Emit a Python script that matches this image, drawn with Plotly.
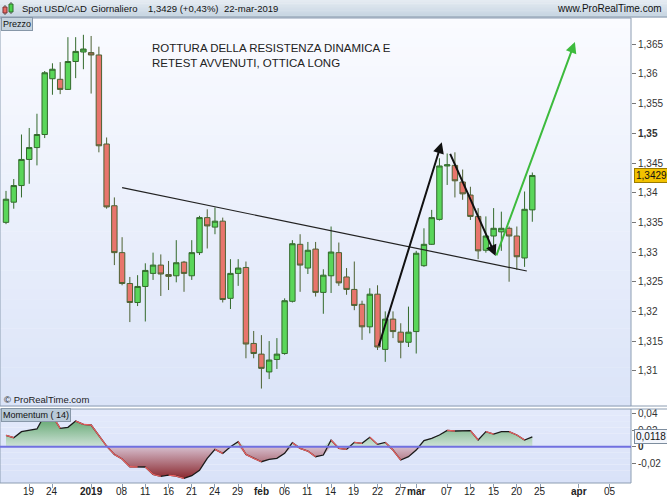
import plotly.graph_objects as go
from plotly.subplots import make_subplots

# ---------------- data ----------------
dates = [
    "2018-12-14", "2018-12-17", "2018-12-18", "2018-12-19", "2018-12-20", "2018-12-21",
    "2018-12-24", "2018-12-26", "2018-12-27", "2018-12-28", "2018-12-31",
    "2019-01-02", "2019-01-03", "2019-01-04", "2019-01-07", "2019-01-08", "2019-01-09",
    "2019-01-10", "2019-01-11", "2019-01-14", "2019-01-15", "2019-01-16", "2019-01-17",
    "2019-01-18", "2019-01-21", "2019-01-22", "2019-01-23", "2019-01-24", "2019-01-25",
    "2019-01-28", "2019-01-29", "2019-01-30", "2019-01-31",
    "2019-02-01", "2019-02-04", "2019-02-05", "2019-02-06", "2019-02-07", "2019-02-08",
    "2019-02-11", "2019-02-12", "2019-02-13", "2019-02-14", "2019-02-15", "2019-02-18",
    "2019-02-19", "2019-02-20", "2019-02-21", "2019-02-22", "2019-02-25", "2019-02-26",
    "2019-02-27", "2019-02-28",
    "2019-03-01", "2019-03-04", "2019-03-05", "2019-03-06", "2019-03-07", "2019-03-08",
    "2019-03-11", "2019-03-12", "2019-03-13", "2019-03-14", "2019-03-15", "2019-03-18",
    "2019-03-19", "2019-03-20", "2019-03-21", "2019-03-22",
]
opens = [
    1.3350, 1.3384, 1.3412, 1.3456, 1.3476, 1.3498, 1.3592, 1.3591, 1.3574, 1.3621, 1.3637,
    1.3636, 1.3632, 1.3482, 1.3378, 1.3299, 1.3247, 1.3215, 1.3242, 1.3264, 1.3278, 1.3262,
    1.3260, 1.3283, 1.3260, 1.3299, 1.3358, 1.3342, 1.3352, 1.3222, 1.3264, 1.3274, 1.3146,
    1.3128, 1.3098, 1.3119, 1.3129, 1.3217, 1.3313, 1.3273, 1.3305, 1.3232, 1.3260, 1.3299,
    1.3258, 1.3237, 1.3212, 1.3174, 1.3229, 1.3136, 1.3187, 1.3165, 1.3148,
    1.3166, 1.3277, 1.3313, 1.3355, 1.3445, 1.3446, 1.3418, 1.3396, 1.3360, 1.3303, 1.3327,
    1.3334, 1.3340, 1.3327, 1.3290, 1.3371,
]
highs = [
    1.3403, 1.3423, 1.3498, 1.3509, 1.3533, 1.3605, 1.3618, 1.3620, 1.3662, 1.3662, 1.3666,
    1.3664, 1.3646, 1.3493, 1.3392, 1.3325, 1.3258, 1.3261, 1.3281, 1.3299, 1.3296, 1.3285,
    1.3320, 1.3285, 1.3320, 1.3361, 1.3372, 1.3375, 1.3358, 1.3288, 1.3288, 1.3284, 1.3167,
    1.3160, 1.3150, 1.3155, 1.3222, 1.3320, 1.3330, 1.3317, 1.3317, 1.3271, 1.3343, 1.3316,
    1.3273, 1.3284, 1.3218, 1.3239, 1.3244, 1.3200, 1.3200, 1.3180, 1.3208,
    1.3302, 1.3340, 1.3371, 1.3458, 1.3466, 1.3468, 1.3439, 1.3410, 1.3374, 1.3360, 1.3374,
    1.3368, 1.3343, 1.3343, 1.3402, 1.3434,
]
lows = [
    1.3347, 1.3373, 1.3392, 1.3415, 1.3446, 1.3492, 1.3565, 1.3566, 1.3573, 1.3593, 1.3608,
    1.3567, 1.3468, 1.3373, 1.3278, 1.3244, 1.3182, 1.3209, 1.3183, 1.3253, 1.3226, 1.3236,
    1.3249, 1.3233, 1.3253, 1.3295, 1.3306, 1.3330, 1.3215, 1.3204, 1.3243, 1.3121, 1.3121,
    1.3070, 1.3086, 1.3103, 1.3127, 1.3215, 1.3233, 1.3263, 1.3225, 1.3196, 1.3231, 1.3243,
    1.3228, 1.3202, 1.3152, 1.3163, 1.3135, 1.3115, 1.3155, 1.3121, 1.3140,
    1.3129, 1.3275, 1.3312, 1.3353, 1.3413, 1.3392, 1.3388, 1.3354, 1.3288, 1.3299, 1.3303,
    1.3302, 1.3250, 1.3270, 1.3275, 1.3351,
]
closes = [
    1.3389, 1.3412, 1.3456, 1.3476, 1.3498, 1.3602, 1.3608, 1.3574, 1.3621, 1.3638, 1.3642,
    1.3632, 1.3479, 1.3376, 1.3299, 1.3247, 1.3215, 1.3242, 1.3269, 1.3278, 1.3263, 1.3259,
    1.3282, 1.3264, 1.3299, 1.3358, 1.3344, 1.3352, 1.3220, 1.3264, 1.3273, 1.3145, 1.3129,
    1.3104, 1.3118, 1.3128, 1.3218, 1.3314, 1.3278, 1.3303, 1.3232, 1.3261, 1.3300, 1.3248,
    1.3237, 1.3210, 1.3174, 1.3229, 1.3140, 1.3187, 1.3166, 1.3148, 1.3165,
    1.3298, 1.3313, 1.3358, 1.3445, 1.3447, 1.3420, 1.3398, 1.3360, 1.3302, 1.3327, 1.3340,
    1.3340, 1.3327, 1.3292, 1.3372, 1.3429,
]
momentum = [
    0.0136, 0.0108, 0.0180, 0.0200, 0.0212, 0.0380, 0.0370, 0.0220, 0.0232, 0.0307, 0.0267,
    0.0260, 0.0132, 0.0008, -0.0092, -0.0148, -0.0240, -0.0243, -0.0243, -0.0331, -0.0355,
    -0.0340, -0.0351, -0.0379, -0.0347, -0.0283, -0.0140, -0.0032, -0.0080, 0.0000, 0.0060,
    -0.0092, -0.0140, -0.0180, -0.0152, -0.0140, -0.0080, 0.0048, -0.0020, -0.0052, -0.0120,
    -0.0100, 0.0080, -0.0020, -0.0032, 0.0052, 0.0040, 0.0112, 0.0028, 0.0052, -0.0040,
    -0.0160, -0.0120, -0.0040, 0.0072, 0.0100, 0.0140, 0.0196, 0.0188, 0.0192, 0.0192,
    0.0080, 0.0180, 0.0152, 0.0180, 0.0180, 0.0140, 0.0080, 0.0118,
]

price_ticks = [1.31, 1.315, 1.32, 1.325, 1.33, 1.335, 1.34, 1.345, 1.35, 1.355, 1.36, 1.365]
price_tick_text = ["1,31", "1,315", "1,32", "1,325", "1,33", "1,335", "1,34", "1,345",
                   "<b>1,35</b>", "1,355", "1,36", "1,365"]
mom_ticks = [-0.02, 0.0, 0.02, 0.04]
mom_tick_text = ["-0,02", "<b>0</b>", "0,02", "0,04"]
x_tick_dates = ["2018-12-19", "2018-12-24", "2019-01-02", "2019-01-08", "2019-01-11",
                "2019-01-16", "2019-01-21", "2019-01-24", "2019-01-29", "2019-02-01",
                "2019-02-06", "2019-02-11", "2019-02-14", "2019-02-19", "2019-02-22",
                "2019-02-27", "2019-03-01", "2019-03-07", "2019-03-12", "2019-03-15",
                "2019-03-20", "2019-03-25", "2019-04-01", "2019-04-05"]
x_tick_text = ["19", "24", "<b>2019</b>", "08", "11", "16", "21", "24", "29", "<b>feb</b>",
               "06", "11", "14", "19", "22", "27", "<b>mar</b>", "07", "12", "15", "20",
               "25", "<b>apr</b>", "05"]
last_price_text = "1,3429"
last_mom_text = "0,0118"

# ---------------- geometry helpers ----------------
W, H = 667, 500
L, R, T, B = 0, 36, 18, 17
PW = W - L - R
PH = H - T - B


def px(xp):
    return (xp - L) / PW


def py(yp):
    return (H - B - yp) / PH


FONT = "Liberation Sans, Arial, sans-serif"

fig = make_subplots(rows=2, cols=1, shared_xaxes=True, vertical_spacing=0.0)

fig.add_trace(go.Candlestick(
    x=dates, open=opens, high=highs, low=lows, close=closes,
    increasing=dict(fillcolor="#5ad65a", line=dict(color="#336a2c", width=1)),
    decreasing=dict(fillcolor="#e8756c", line=dict(color="#4d6233", width=1)),
    whiskerwidth=0, showlegend=False, hoverinfo="skip"), row=1, col=1)

pos = [max(v, 0.0) for v in momentum]
neg = [min(v, 0.0) for v in momentum]
fig.add_trace(go.Scatter(
    x=dates, y=pos, mode="lines", line=dict(width=0), fill="tozeroy",
    fillgradient=dict(type="vertical", start=0.0, stop=0.04,
                      colorscale=[[0, "rgb(206,226,216)"], [1, "rgb(78,156,92)"]]),
    showlegend=False, hoverinfo="skip"), row=2, col=1)
fig.add_trace(go.Scatter(
    x=dates, y=neg, mode="lines", line=dict(width=0), fill="tozeroy",
    fillgradient=dict(type="vertical", start=-0.038, stop=0.0,
                      colorscale=[[0, "rgb(138,40,46)"], [1, "rgb(214,190,206)"]]),
    showlegend=False, hoverinfo="skip"), row=2, col=1)
fig.add_trace(go.Scatter(
    x=dates, y=momentum, mode="lines", line=dict(color="#1a1a1a", width=1.3),
    showlegend=False, hoverinfo="skip"), row=2, col=1)

fx, fy = [], []
for i in range(1, len(momentum)):
    if momentum[i] < momentum[i - 1]:
        fx += [dates[i - 1], dates[i], None]
        fy += [momentum[i - 1], momentum[i], None]
fig.add_trace(go.Scatter(
    x=fx, y=fy, mode="lines", line=dict(color="#e86060", width=1.3),
    showlegend=False, hoverinfo="skip", connectgaps=False), row=2, col=1)

# ---------------- axes ----------------
rb = [dict(bounds=["sat", "mon"]), dict(values=["2018-12-25", "2019-01-01"])]
xrange = ["2018-12-13 05:24", "2019-04-09 18:00"]
axis_col = "#8c9db2"
fig.update_xaxes(rangebreaks=rb, range=xrange, showgrid=False, zeroline=False,
                 automargin=False, showline=False)
fig.update_layout(xaxis_rangeslider_visible=False)
fig.update_xaxes(showticklabels=False, ticks="", row=1, col=1)
fig.update_xaxes(tickmode="array", tickvals=x_tick_dates, showticklabels=False,
                 ticks="outside", ticklen=4, tickcolor=axis_col, row=2, col=1)

fig.update_yaxes(side="right", showgrid=False, zeroline=False, automargin=False,
                 ticks="outside", ticklen=4, tickcolor="#777",
                 tickfont=dict(family=FONT, size=10, color="#333"))
fig.update_yaxes(range=[1.30406, 1.36943], tickmode="array", tickvals=price_ticks,
                 ticktext=price_tick_text, domain=[py(406), 1.0], row=1, col=1)
fig.update_yaxes(range=[-0.04347, 0.04515], tickmode="array", tickvals=mom_ticks,
                 ticktext=mom_tick_text, domain=[0.0, py(409)], row=2, col=1)

# ---------------- background shapes ----------------
shapes = []


def lerp(c0, c1, t):
    return "rgb(%d,%d,%d)" % tuple(round(a + (b - a) * t) for a, b in zip(c0, c1))


def bands(xref, yref, top, bottom, n, y_lo=0.0, y_hi=1.0, x0=0.0, x1=1.0):
    for k in range(n):
        t = k / (n - 1)
        h = (y_hi - y_lo) / n
        shapes.append(dict(type="rect", xref=xref, yref=yref, x0=x0, x1=x1,
                           y0=y_hi - (k + 1) * h - 0.001, y1=y_hi - k * h,
                           fillcolor=lerp(top, bottom, t), line=dict(width=0),
                           layer="below"))


bands("x domain", "y domain", (250, 251, 255), (219, 228, 248), 40)
bands("x2 domain", "y2 domain", (227, 233, 251), (217, 226, 248), 12)
# title bar
bands("paper", "paper", (228, 235, 242), (198, 212, 225), 10,
      y_lo=py(17), y_hi=py(0), x0=0.0, x1=W / PW)
shapes.append(dict(type="line", xref="paper", yref="paper", x0=0, x1=W / PW,
                   y0=py(17), y1=py(17), line=dict(color="#8a9aab", width=1)))
# panel borders
for xr, yr in (("x domain", "y domain"), ("x2 domain", "y2 domain")):
    shapes.append(dict(type="rect", xref=xr, yref=yr, x0=0, x1=1, y0=0, y1=1,
                       line=dict(color=axis_col, width=1), fillcolor="rgba(0,0,0,0)",
                       layer="above"))
for yy in (406, 409):
    shapes.append(dict(type="line", xref="paper", yref="paper", x0=1, x1=W / PW,
                       y0=py(yy), y1=py(yy), line=dict(color=axis_col, width=1)))
# icon in title bar
shapes.append(dict(type="line", xref="paper", yref="paper", x0=px(5), x1=px(5),
                   y0=py(15), y1=py(5), line=dict(color="#555", width=1)))
shapes.append(dict(type="rect", xref="paper", yref="paper", x0=px(3), x1=px(7),
                   y0=py(13), y1=py(7), fillcolor="#e86a62", line=dict(color="#7a3030", width=1)))
shapes.append(dict(type="line", xref="paper", yref="paper", x0=px(11), x1=px(11),
                   y0=py(14), y1=py(2), line=dict(color="#555", width=1)))
shapes.append(dict(type="rect", xref="paper", yref="paper", x0=px(9), x1=px(13),
                   y0=py(12), y1=py(4), fillcolor="#4cd24c", line=dict(color="#2d6a2d", width=1)))
# zero line of momentum
shapes.append(dict(type="line", xref="x2 domain", yref="y2", x0=0, x1=1, y0=0, y1=0,
                   line=dict(color="#7070e0", width=2)))
# trend line
shapes.append(dict(type="line", xref="x", yref="y", x0="2019-01-08", y0=1.34084,
                   x1="2019-03-21 07:00", y1=1.32680, line=dict(color="#222", width=1.2)))

annotations = []


def arrow(x_from, y_from, x_to, y_to, color):
    annotations.append(dict(x=x_to, y=y_to, ax=x_from, ay=y_from, xref="x", yref="y",
                            axref="x", ayref="y", text="", showarrow=True, arrowhead=2,
                            arrowsize=1.1, arrowwidth=2, arrowcolor=color, standoff=0))


arrow("2019-02-22 02:24", 1.31395, "2019-03-06 07:12", 1.34849, "#111")
arrow("2019-03-07 07:12", 1.34680, "2019-03-15 06:30", 1.32933, "#111")
arrow("2019-03-15 07:00", 1.32920, "2019-03-29 12:00", 1.36540, "#3dbb3d")


def ptext(text, xp, yp, size=10, anchor="left", color="#111", bg=None, border=None):
    d = dict(text=text, xref="paper", yref="paper", x=px(xp), y=py(yp), xanchor=anchor,
             yanchor="middle", showarrow=False,
             font=dict(family=FONT, size=size, color=color))
    if bg:
        d.update(bgcolor=bg, bordercolor=border, borderwidth=1, borderpad=1)
    annotations.append(d)


ptext("Spot USD/CAD", 20, 8.5, size=9.5)
ptext("Giornaliero", 89, 8.5, size=9.5)
ptext("1,3429 (+0,43%)", 146, 8.5, size=9.5)
ptext("22-mar-2019", 222, 8.5, size=9.5)
ptext("www.ProRealTime.com", 664, 8.5, size=10, anchor="right")
ptext("Prezzo", 0.5, 23.5, size=9, bg="#c6d3de", border="#8797a8")
ptext("ROTTURA DELLA RESISTENZA DINAMICA E", 150, 47.5, size=11.5, color="#222")
ptext("RETEST AVVENUTI, OTTICA LONG", 150, 63, size=11.5, color="#222")
ptext("© ProRealTime.com", 2, 399, size=9.5, color="#222")
ptext("Momentum ( 14)", 0.5, 414.5, size=9, bg="#b9cad8", border="#8797a8")

# x tick labels (placed as text under the momentum panel)
for d, t in zip(x_tick_dates, x_tick_text):
    annotations.append(dict(text=t, xref="x2", yref="paper", x=d, y=py(492),
                            xanchor="center", yanchor="middle", showarrow=False,
                            font=dict(family=FONT, size=10, color="#222")))

annotations.append(dict(text=last_price_text, xref="paper", yref="y", x=px(634),
                        y=1.3429, xanchor="left", yanchor="middle", showarrow=False,
                        font=dict(family=FONT, size=10, color="#111"),
                        bgcolor="#f2c200", bordercolor="#9b7b00", borderwidth=1, borderpad=1))
annotations.append(dict(text=last_mom_text, xref="paper", yref="y2", x=px(634),
                        y=0.0118, xanchor="left", yanchor="middle", showarrow=False,
                        font=dict(family=FONT, size=10, color="#111"),
                        bgcolor="#f3f6fc", bordercolor="#7d8d9e", borderwidth=1, borderpad=1))

fig.update_layout(
    width=W, height=H, margin=dict(l=L, r=R, t=T, b=B),
    paper_bgcolor="white", plot_bgcolor="rgba(0,0,0,0)",
    boxgap=0.3, boxgroupgap=0.0,
    shapes=shapes, annotations=annotations, showlegend=False,
    font=dict(family=FONT), hovermode=False,
)

fig.write_html("out.html", config={"displayModeBar": False},
               post_script="document.body.style.margin='0';document.body.style.overflow='hidden';")
